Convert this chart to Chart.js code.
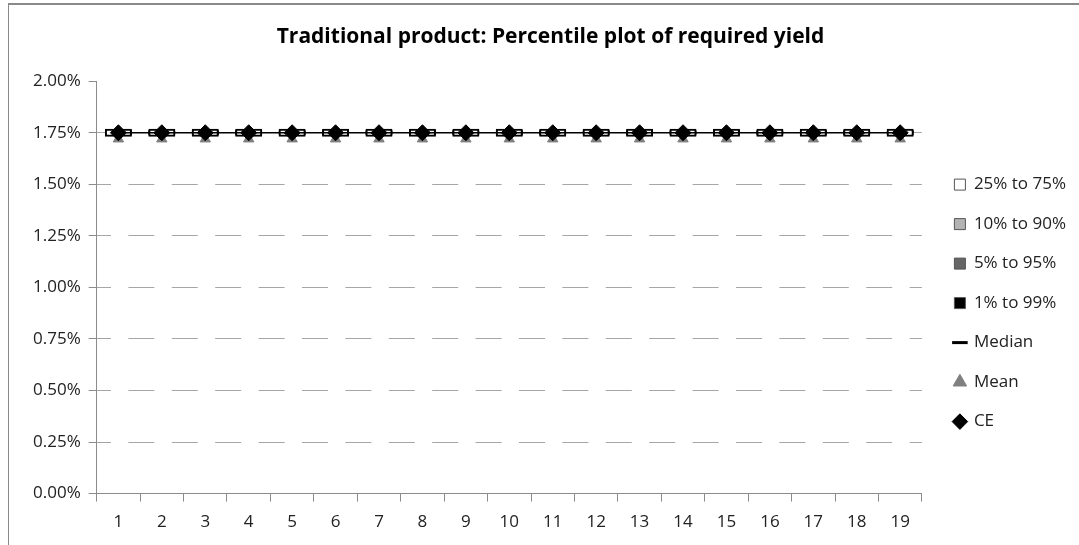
<!DOCTYPE html>
<html>
<head>
<meta charset="utf-8">
<script src="https://cdn.jsdelivr.net/npm/chart.js@4/dist/chart.umd.min.js"></script>
<style>
  body { margin: 0; background: #fff; }
  #wrap {
    position: absolute; left: 8px; top: 3px;
    border-left: 1px solid #8a8a8a; border-top: 2px solid #8a8a8a;
    width: 1071px; height: 542px;
  }
</style>
</head>
<body>
<div id="wrap"><canvas id="chartYield" width="1071" height="542"></canvas></div>
<script>
// ================== DATA ================ //
const CATEGORIES = ["1","2","3","4","5","6","7","8","9","10","11","12","13","14","15","16","17","18","19"];

// percentile bands (low, high) in %
const P25_75 = CATEGORIES.map(() => [1.731, 1.769]);
const P10_90 = CATEGORIES.map(() => [1.735, 1.765]);
const P5_95 = CATEGORIES.map(() => [1.738, 1.762]);
const P1_99 = CATEGORIES.map(() => [1.741, 1.759]);

const MEDIAN = [1.75,1.75,1.75,1.75,1.75,1.75,1.75,1.75,1.75,1.75,1.75,1.75,1.75,1.75,1.75,1.75,1.75,1.75,1.75];
const MEAN = [1.72,1.72,1.72,1.72,1.72,1.72,1.72,1.72,1.72,1.72,1.72,1.72,1.72,1.72,1.72,1.72,1.72,1.72,1.72];
const CE = [1.75,1.75,1.75,1.75,1.75,1.75,1.75,1.75,1.75,1.75,1.75,1.75,1.75,1.75,1.75,1.75,1.75,1.75,1.75];

const Y_TICKS = [0, 0.25, 0.5, 0.75, 1, 1.25, 1.5, 1.75, 2];

const FONT = "'Open Sans', sans-serif";
const AXIS_GREY = "#8c8c8c";
const LEGEND_EXTRA = 10; // extra gap between plot and legend

function bandDataset(label, data, fill, legendFill, order) {
  return {
    type: "bar",
    label,
    data,
    backgroundColor: fill,
    borderColor: "#000",
    borderWidth: 2,
    borderSkipped: false,
    grouped: false,
    categoryPercentage: 0.62,
    barPercentage: 1,
    pointStyle: "rect",
    legendFill,
    order,
  };
}

// widen legend box on its left side, keeping the items where they are
const legendGapPlugin = {
  id: "legendGap",
  beforeUpdate(chart) {
    const lg = chart.legend;
    if (!lg || lg._gapPatched) return;
    lg._gapPatched = true;
    const fit = lg.fit;
    lg.fit = function () {
      fit.call(this);
      this.width += LEGEND_EXTRA;
    };
    const draw = lg.draw;
    lg.draw = function () {
      const ctx = this.ctx;
      ctx.save();
      ctx.translate(LEGEND_EXTRA, 0);
      draw.call(this);
      ctx.restore();
    };
  },
};

function renderChartYield() {
  const canvas = document.getElementById("chartYield");
  if (!canvas) return;

  const datasets = [
    bandDataset("25% to 75%", P25_75, "#ffffff", "#ffffff", 3),
    bandDataset("10% to 90%", P10_90, "#b3b3b3", "#b3b3b3", 4),
    bandDataset("5% to 95%", P5_95, "#666666", "#666666", 5),
    bandDataset("1% to 99%", P1_99, "#000000", "#000000", 6),
    {
      type: "line",
      label: "Median",
      data: MEDIAN,
      borderColor: "#000",
      backgroundColor: "#000",
      borderWidth: 1.5,
      pointRadius: 0,
      pointStyle: "line",
      order: 2,
    },
    {
      type: "line",
      label: "Mean",
      data: MEAN,
      showLine: false,
      pointStyle: "triangle",
      pointRadius: 6,
      backgroundColor: "#7f7f7f",
      borderColor: "#7f7f7f",
      borderWidth: 1,
      order: 1,
    },
    {
      type: "line",
      label: "CE",
      data: CE,
      showLine: false,
      pointStyle: "rectRot",
      pointRadius: 8,
      backgroundColor: "#000",
      borderColor: "#000",
      borderWidth: 1,
      order: 0,
    },
  ];

  new Chart(canvas, {
    data: { labels: CATEGORIES, datasets },
    plugins: [legendGapPlugin],
    options: {
      responsive: false,
      animation: false,
      layout: { padding: { left: 16, right: 4, top: 0, bottom: 5 } },
      plugins: {
        title: {
          display: true,
          text: "Traditional product: Percentile plot of required yield",
          font: { family: FONT, size: 21, weight: "bold" },
          color: "#000",
          padding: { top: 19, bottom: 32 },
        },
        legend: {
          position: "right",
          title: { display: true, text: " ", font: { size: 1 }, padding: { top: 58, bottom: 0 } },
          labels: {
            usePointStyle: true,
            boxWidth: 11,
            boxHeight: 11,
            padding: 22.5,
            color: "#222",
            font: { family: FONT, size: 17 },
            sort: (a, b) => a.datasetIndex - b.datasetIndex,
            generateLabels: (chart) => {
              const items = Chart.defaults.plugins.legend.labels.generateLabels(chart);
              items.forEach((it) => {
                const ds = chart.data.datasets[it.datasetIndex];
                if (ds.type === "bar") {
                  it.fillStyle = ds.legendFill;
                  it.strokeStyle = "#555";
                  it.lineWidth = 1;
                }
                if (ds.label === "Median") it.lineWidth = 3;
                if (ds.label === "Mean") it.lineWidth = 1;
              });
              return items;
            },
          },
        },
        tooltip: { enabled: false },
      },
      scales: {
        x: {
          type: "category",
          offset: true,
          grid: {
            offset: true,
            drawOnChartArea: false,
            tickLength: 8,
            tickColor: AXIS_GREY,
          },
          border: { color: AXIS_GREY, width: 1 },
          ticks: {
            color: "#222",
            padding: 10,
            font: { family: FONT, size: 17 },
          },
        },
        y: {
          min: 0,
          max: 2,
          afterBuildTicks: (scale) => {
            scale.ticks = Y_TICKS.map((v) => ({ value: v }));
          },
          grid: {
            color: (ctx) =>
              ctx.tick && (ctx.tick.value === 0 || ctx.tick.value === 2) ? "rgba(0,0,0,0)" : "#a6a6a6",
            tickColor: AXIS_GREY,
            tickLength: 8,
          },
          border: { color: AXIS_GREY, width: 1, dash: [26, 17.4], dashOffset: 12 },
          ticks: {
            color: "#222",
            padding: 8,
            font: { family: FONT, size: 17 },
            callback: (v) => Number(v).toFixed(2) + "%",
          },
        },
      },
    },
  });
}

renderChartYield();
</script>
</body>
</html>
